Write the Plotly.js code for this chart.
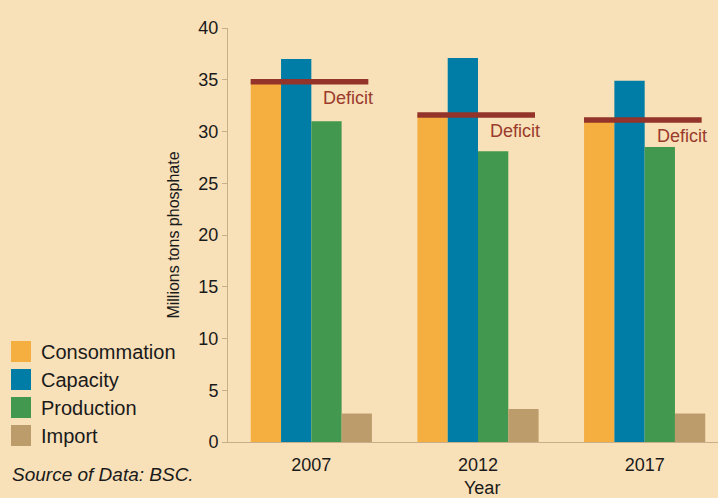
<!DOCTYPE html>
<html>
<head>
<meta charset="utf-8">
<script src="https://cdn.plot.ly/plotly-3.0.1.min.js"></script>
<style>
html,body{margin:0;padding:0;background:#F8E0B9;}
#chart{width:718px;height:498px;}
</style>
</head>
<body>
<div id="chart"></div>
<script>
// ---- data ----
var years = ["2007", "2012", "2017"];
var seriesNames = ["Consommation", "Capacity", "Production", "Import"];
var consommation = [34.8, 31.6, 31.1];
var capacity = [37.0, 37.1, 34.9];
var production = [31.0, 28.1, 28.5];
var importVals = [2.75, 3.2, 2.75];
var deficitLevel = [34.8, 31.6, 31.1];
var deficitLabel = "Deficit";
var yTicks = [0, 5, 10, 15, 20, 25, 30, 35, 40];
var sourceText = "Source of Data: BSC.";
var yTitle = "Millions tons phosphate";
var xTitle = "Year";

// ---- style ----
var colors = ["#F5AE40", "#007DA6", "#43984F", "#BD9C6B"];
var bg = "#F8E0B9";
var axisCol = "#C9AE8C";
var deficitCol = "#93332A";
var textCol = "#1a1a1a";
var FONT = "Liberation Sans, Arial, Helvetica, sans-serif";

var W = 718, H = 498, ML = 228, MR = 0, MT = 28, MB = 56;
var pw = W - ML - MR, ph = H - MT - MB;
function px2x(px){ return (px - ML) / pw; }
function py2y(py){ return (H - MB - py) / ph; }

var seriesVals = [consommation, capacity, production, importVals];
var traces = seriesNames.map(function(n, i){
  return {
    type: "bar", name: n, x: years, y: seriesVals[i],
    marker: {color: colors[i], line: {width: 0}},
    showlegend: false, hoverinfo: "skip"
  };
});

var shapes = [];
var annotations = [];
deficitLevel.forEach(function(v, i){
  shapes.push({type: "line", xref: "x", yref: "y", x0: i - 0.364, x1: i + 0.342,
    y0: v, y1: v, line: {color: deficitCol, width: 5.5}});
  annotations.push({xref: "x", yref: "y", x: i + 0.222, y: v - 1.55, text: deficitLabel,
    showarrow: false, xanchor: "center", yanchor: "middle",
    font: {family: FONT, size: 18, color: "#9A3B2B"}});
});

// manual legend
seriesNames.forEach(function(n, i){
  var top = 341 + i * 28;
  shapes.push({type: "rect", xref: "paper", yref: "paper",
    x0: px2x(11), x1: px2x(31), y0: py2y(top + 21), y1: py2y(top),
    fillcolor: colors[i], line: {width: 0}, layer: "above"});
  annotations.push({xref: "paper", yref: "paper", x: px2x(39), y: py2y(top + 10.5),
    text: n, showarrow: false, xanchor: "left", yanchor: "middle",
    font: {family: FONT, size: 20, color: textCol}});
});

annotations.push({xref: "paper", yref: "paper", x: px2x(10), y: py2y(475),
  text: "<i>" + sourceText + "</i>", showarrow: false, xanchor: "left", yanchor: "middle",
  font: {family: FONT, size: 19, color: textCol}});

annotations.push({xref: "paper", yref: "paper", x: px2x(482), y: py2y(488),
  text: xTitle, showarrow: false, xanchor: "center", yanchor: "middle",
  font: {family: FONT, size: 18, color: textCol}});

var layout = {
  width: W, height: H,
  margin: {l: ML, r: MR, t: MT, b: MB, pad: 0},
  paper_bgcolor: bg, plot_bgcolor: bg,
  barmode: "group", bargap: 0.273, bargroupgap: 0,
  font: {family: FONT, color: textCol},
  xaxis: {
    type: "category", range: [-0.5, 2.44], fixedrange: true,
    showline: true, linecolor: axisCol, linewidth: 1,
    ticks: "", showgrid: false, zeroline: false,
    tickfont: {family: FONT, size: 18, color: textCol},
    ticklabelstandoff: 6
  },
  yaxis: {
    range: [0, 40], tickvals: yTicks, ticktext: yTicks.map(String),
    showline: true, linecolor: axisCol, linewidth: 1,
    ticks: "outside", ticklen: 5, tickcolor: axisCol, tickwidth: 1,
    showgrid: false, zeroline: false, fixedrange: true,
    tickfont: {family: FONT, size: 18, color: textCol},
    title: {text: yTitle, font: {family: FONT, size: 16, color: textCol}, standoff: 14},
    automargin: false
  },
  shapes: shapes,
  annotations: annotations
};

Plotly.newPlot("chart", traces, layout, {displayModeBar: false, staticPlot: true});
</script>
</body>
</html>
